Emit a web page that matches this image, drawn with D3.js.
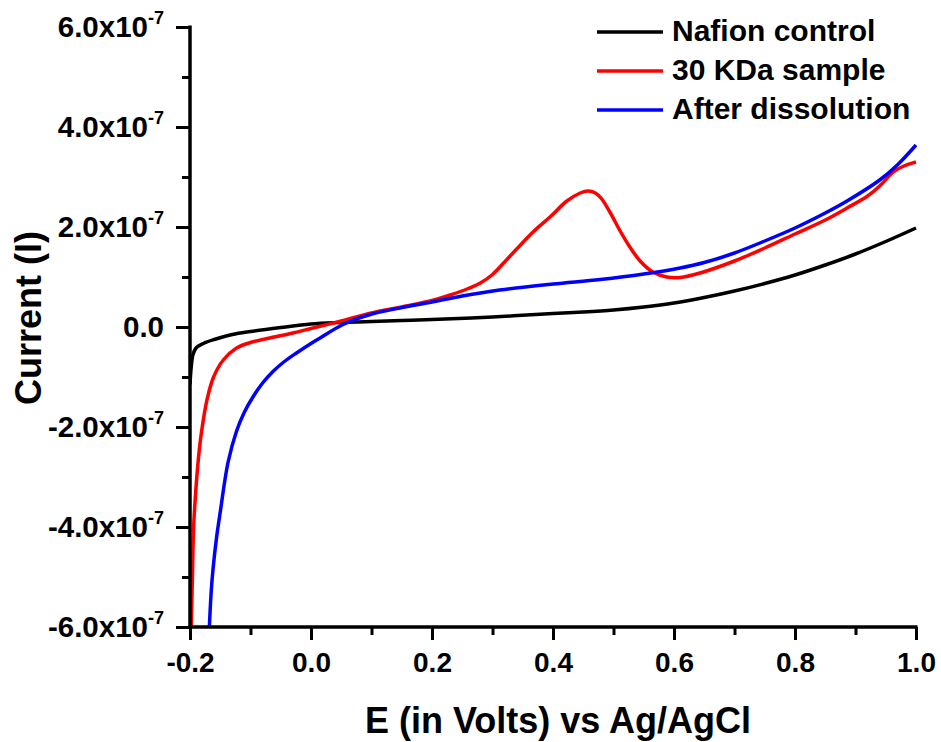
<!DOCTYPE html>
<html>
<head>
<meta charset="utf-8">
<script src="https://cdn.jsdelivr.net/npm/d3@7/dist/d3.min.js"></script>
<style>
  html, body { margin: 0; padding: 0; background: #fff; }
  svg { display: block; font-family: "Liberation Sans", Arial, sans-serif; font-weight: bold; }
</style>
</head>
<body>
<svg id="chart" width="941" height="742"></svg>
<script>
// Potential (V vs Ag/AgCl) and current, current in units of 1e-7 A
const nafionE = [-0.200, -0.198, -0.195, -0.190, -0.178, -0.160, -0.130, -0.100, -0.050, 0.000, 0.050, 0.100, 0.150, 0.200, 0.300, 0.400, 0.450, 0.500, 0.550, 0.600, 0.650, 0.700, 0.750, 0.800, 0.850, 0.900, 0.950, 1.000];
const nafionI = [-1.15, -0.80, -0.55, -0.42, -0.33, -0.25, -0.15, -0.09, -0.01, 0.06, 0.09, 0.11, 0.13, 0.15, 0.20, 0.27, 0.30, 0.34, 0.40, 0.48, 0.59, 0.72, 0.87, 1.04, 1.24, 1.46, 1.71, 1.98];

const kda30E = [-0.198, -0.196, -0.194, -0.190, -0.185, -0.181, -0.172, -0.161, -0.145, -0.123, -0.100, -0.068, -0.030, 0.000, 0.050, 0.100, 0.150, 0.200, 0.230, 0.260, 0.280, 0.300, 0.320, 0.340, 0.367, 0.395, 0.423, 0.445, 0.458, 0.470, 0.480, 0.494, 0.511, 0.527, 0.544, 0.565, 0.588, 0.610, 0.643, 0.700, 0.750, 0.800, 0.850, 0.886, 0.920, 0.940, 0.962, 0.980, 1.000];
const kda30I = [-6.00, -5.00, -4.00, -3.20, -2.50, -2.10, -1.46, -1.00, -0.66, -0.42, -0.31, -0.22, -0.12, -0.03, 0.12, 0.28, 0.40, 0.53, 0.64, 0.77, 0.88, 1.05, 1.30, 1.56, 1.90, 2.20, 2.52, 2.68, 2.72, 2.68, 2.57, 2.30, 1.92, 1.60, 1.32, 1.10, 1.00, 0.99, 1.08, 1.32, 1.58, 1.86, 2.14, 2.38, 2.62, 2.82, 3.10, 3.22, 3.30];

const dissolE = [-0.168, -0.165, -0.162, -0.156, -0.150, -0.137, -0.123, -0.110, -0.096, -0.080, -0.062, -0.045, -0.024, 0.000, 0.015, 0.053, 0.098, 0.147, 0.200, 0.250, 0.312, 0.400, 0.478, 0.550, 0.610, 0.650, 0.700, 0.750, 0.800, 0.850, 0.886, 0.940, 0.970, 1.000];
const dissolI = [-6.00, -5.30, -4.85, -4.20, -3.70, -2.70, -2.08, -1.70, -1.40, -1.12, -0.88, -0.70, -0.52, -0.33, -0.22, 0.05, 0.25, 0.38, 0.50, 0.62, 0.74, 0.86, 0.95, 1.06, 1.18, 1.29, 1.48, 1.72, 1.98, 2.28, 2.52, 2.94, 3.25, 3.64];

const seriesNames = ["Nafion control", "30 KDa sample", "After dissolution"];
const seriesColors = ["#000000", "#ff0000", "#0000ff"];

const xTicks = [-0.2, 0.0, 0.2, 0.4, 0.6, 0.8, 1.0];
const yTicks = [-6, -4, -2, 0, 2, 4, 6];   // x 1e-7 A
const xTitle = "E (in Volts) vs Ag/AgCl";
const yTitle = "Current (I)";

const svg = d3.select("#chart");
const pLeft = 190, pRight = 916, pTop = 27, pBottom = 627;

const x = d3.scaleLinear().domain([-0.2, 1.0]).range([pLeft, pRight]);
const y = d3.scaleLinear().domain([-6, 6]).range([pBottom, pTop]);

// one-decimal labels with a plain hyphen for negatives
const fmt1 = v => d3.format(".1f")(v).replace("\u2212", "-");

const series = [
  { E: nafionE, I: nafionI },
  { E: kda30E, I: kda30I },
  { E: dissolE, I: dissolI }
];

svg.append("clipPath").attr("id", "plotclip")
  .append("rect").attr("x", pLeft).attr("y", pTop - 2).attr("width", pRight - pLeft + 2).attr("height", pBottom - pTop + 2);

const line = d3.line()
  .x(d => x(d[0]))
  .y(d => y(d[1]))
  .curve(d3.curveCatmullRom.alpha(0.5));

const plot = svg.append("g").attr("clip-path", "url(#plotclip)");
series.forEach((s, i) => {
  plot.append("path")
    .datum(s.E.map((e, k) => [e, s.I[k]]))
    .attr("fill", "none")
    .attr("stroke", seriesColors[i])
    .attr("stroke-width", 3.5)
    .attr("stroke-linejoin", "round")
    .attr("d", line);
});

// Axes: minor ticks every 0.1 V / 1e-7 A, major ticks labelled
const xAxis = svg.append("g").attr("transform", `translate(0,${pBottom})`);
xAxis.append("g").call(d3.axisBottom(x).tickValues(d3.range(-2, 10.5, 1).map(v => v / 10)).tickSize(8).tickFormat(""));
xAxis.append("g").call(d3.axisBottom(x).tickValues(xTicks).tickSize(13).tickFormat(fmt1));
xAxis.selectAll(".domain").remove();
xAxis.selectAll("line").attr("stroke", "#000").attr("stroke-width", 3);
xAxis.selectAll("text")
  .attr("font-size", 28).attr("font-weight", "bold").attr("fill", "#000")
  .attr("font-family", "Liberation Sans, Arial, sans-serif")
  .attr("dy", null).attr("y", 45);

const yAxis = svg.append("g").attr("transform", `translate(${pLeft},0)`);
yAxis.append("g").call(d3.axisLeft(y).tickValues(d3.range(-6, 6.5, 1)).tickSize(8).tickFormat(""));
yAxis.append("g").call(d3.axisLeft(y).tickValues(yTicks).tickSize(14).tickFormat(""));
yAxis.selectAll(".domain").remove();
yAxis.selectAll("line").attr("stroke", "#000").attr("stroke-width", 3);

// y tick labels with superscript exponent
const yLab = svg.append("g");
yTicks.forEach(v => {
  const t = yLab.append("text")
    .attr("x", 164)
    .attr("y", y(v) + 10)
    .attr("text-anchor", "end")
    .attr("font-size", 29.5)
    .attr("fill", "#000");
  if (v === 0) {
    t.text("0.0");
  } else {
    t.append("tspan").text(fmt1(v) + "x10");
    t.append("tspan").attr("font-size", 18).attr("dy", -13).text("-7");
  }
});

svg.append("line")
  .attr("x1", pLeft).attr("x2", pLeft).attr("y1", pTop - 1.5).attr("y2", pBottom + 1.5)
  .attr("stroke", "#000").attr("stroke-width", 3.5);
svg.append("line")
  .attr("x1", pLeft - 1.5).attr("x2", pRight + 1.5).attr("y1", pBottom).attr("y2", pBottom)
  .attr("stroke", "#000").attr("stroke-width", 3.5);

// Axis titles
svg.append("text")
  .attr("x", (pLeft + pRight) / 2 + 5).attr("y", 733)
  .attr("text-anchor", "middle").attr("font-size", 36).attr("fill", "#000")
  .text(xTitle);
svg.append("text")
  .attr("transform", `translate(41,${318}) rotate(-90)`)
  .attr("text-anchor", "middle").attr("font-size", 36).attr("fill", "#000")
  .text(yTitle);

// Legend
const legend = svg.append("g");
seriesNames.forEach((name, i) => {
  const ly = 32 + i * 39;
  legend.append("line")
    .attr("x1", 597).attr("x2", 663).attr("y1", ly).attr("y2", ly)
    .attr("stroke", seriesColors[i]).attr("stroke-width", 3.5);
  legend.append("text")
    .attr("x", 672).attr("y", ly + 9)
    .attr("font-size", 30).attr("fill", "#000")
    .text(name);
});
</script>
</body>
</html>
